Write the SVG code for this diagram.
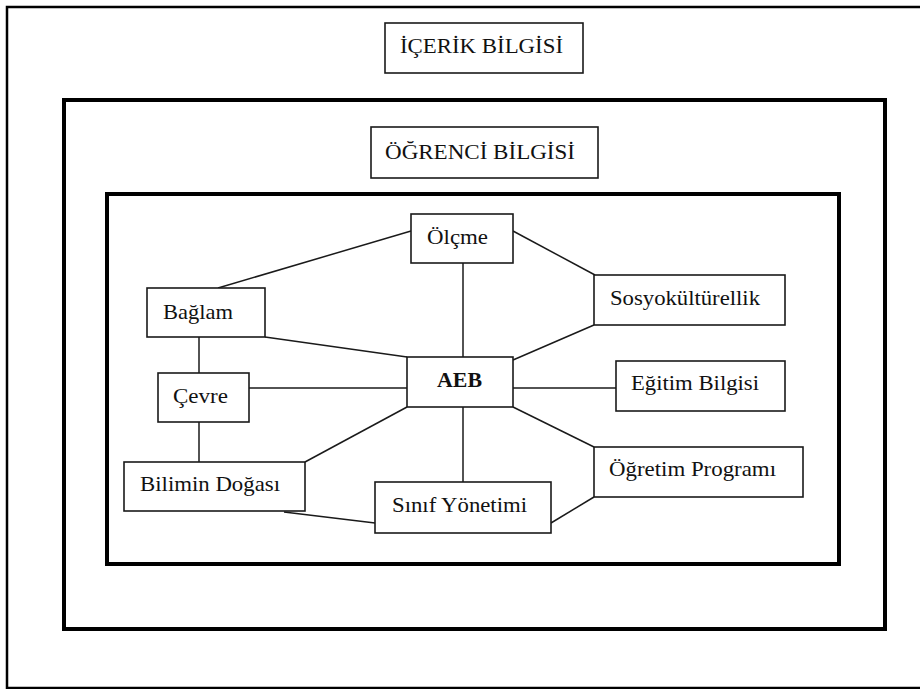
<svg xmlns="http://www.w3.org/2000/svg" width="920" height="689" viewBox="0 0 920 689">
  <style>
    .frame { fill: none; stroke: #000; }
    .box { fill: #fff; stroke: #1a1a1a; stroke-width: 1.6; }
    .link { stroke: #1a1a1a; stroke-width: 1.5; fill: none; }
    .lbl { font-family: 'Liberation Serif', 'DejaVu Serif', serif; font-size: 21.5px; fill: #111; }
    .bold { font-weight: bold; }
  </style>
  <rect width="920" height="689" fill="#fff"/>

  <!-- outer frame (content knowledge), open on the right -->
  <g id="frame-icerik">
    <path class="frame" d="M920 7 H7 V688 H920" stroke-width="2.5"/>
  </g>
  <!-- middle frame (student knowledge) -->
  <g id="frame-ogrenci">
    <rect class="frame" x="64" y="100" width="821" height="529" stroke-width="4"/>
  </g>
  <!-- inner frame -->
  <g id="frame-ic">
    <rect class="frame" x="107" y="194" width="732" height="370" stroke-width="4"/>
  </g>

  <!-- connectors -->
  <g id="connectors">
    <line class="link" x1="218" y1="288" x2="411" y2="231"/>
    <line class="link" x1="463" y1="263" x2="463" y2="357"/>
    <line class="link" x1="513" y1="231" x2="595" y2="275"/>
    <line class="link" x1="265" y1="337" x2="407" y2="357"/>
    <line class="link" x1="199" y1="337" x2="199" y2="373"/>
    <line class="link" x1="249" y1="388" x2="407" y2="388"/>
    <line class="link" x1="513" y1="360" x2="594" y2="325"/>
    <line class="link" x1="513" y1="388" x2="616" y2="388"/>
    <line class="link" x1="407" y1="407" x2="305" y2="462"/>
    <line class="link" x1="199" y1="422" x2="199" y2="462"/>
    <line class="link" x1="463" y1="407" x2="463" y2="482"/>
    <line class="link" x1="513" y1="407" x2="594" y2="447"/>
    <line class="link" x1="284" y1="512" x2="375" y2="523"/>
    <line class="link" x1="551" y1="523" x2="594" y2="497"/>
  </g>

  <g id="icerik-bilgisi">
    <rect class="box" x="385" y="23" width="198" height="50"/>
    <text class="lbl" x="400" y="53" textLength="163" lengthAdjust="spacingAndGlyphs">İÇERİK BİLGİSİ</text>
  </g>
  <g id="ogrenci-bilgisi">
    <rect class="box" x="371" y="127" width="227" height="51"/>
    <text class="lbl" x="385" y="159" textLength="190" lengthAdjust="spacingAndGlyphs">ÖĞRENCİ BİLGİSİ</text>
  </g>
  <g id="olcme">
    <rect class="box" x="411" y="214" width="102" height="49"/>
    <text class="lbl" x="427" y="244" textLength="61" lengthAdjust="spacingAndGlyphs">Ölçme</text>
  </g>
  <g id="baglam">
    <rect class="box" x="147" y="288" width="118" height="49"/>
    <text class="lbl" x="163" y="319" textLength="70" lengthAdjust="spacingAndGlyphs">Bağlam</text>
  </g>
  <g id="sosyokulturellik">
    <rect class="box" x="594" y="275" width="191" height="50"/>
    <text class="lbl" x="610" y="305" textLength="150" lengthAdjust="spacingAndGlyphs">Sosyokültürellik</text>
  </g>
  <g id="cevre">
    <rect class="box" x="158" y="373" width="91" height="49"/>
    <text class="lbl" x="173" y="403" textLength="55" lengthAdjust="spacingAndGlyphs">Çevre</text>
  </g>
  <g id="aeb">
    <rect class="box" x="407" y="357" width="106" height="50"/>
    <text class="lbl bold" x="437" y="387" textLength="45" lengthAdjust="spacingAndGlyphs">AEB</text>
  </g>
  <g id="egitim-bilgisi">
    <rect class="box" x="616" y="361" width="169" height="50"/>
    <text class="lbl" x="631" y="390" textLength="128" lengthAdjust="spacingAndGlyphs">Eğitim Bilgisi</text>
  </g>
  <g id="bilimin-dogasi">
    <rect class="box" x="124" y="462" width="181" height="49"/>
    <text class="lbl" x="140" y="491" textLength="140" lengthAdjust="spacingAndGlyphs">Bilimin Doğası</text>
  </g>
  <g id="ogretim-programi">
    <rect class="box" x="594" y="447" width="209" height="50"/>
    <text class="lbl" x="609" y="476" textLength="167" lengthAdjust="spacingAndGlyphs">Öğretim Programı</text>
  </g>
  <g id="sinif-yonetimi">
    <rect class="box" x="375" y="482" width="176" height="51"/>
    <text class="lbl" x="392" y="512" textLength="135" lengthAdjust="spacingAndGlyphs">Sınıf Yönetimi</text>
  </g>
</svg>
